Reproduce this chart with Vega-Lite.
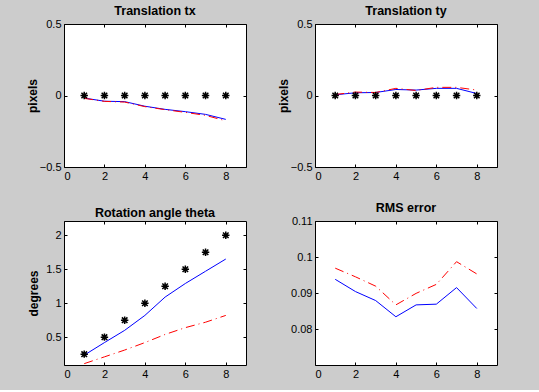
{
  "$schema": "https://vega.github.io/schema/vega-lite/v6.json",
  "background": "#cccccc",
  "padding": {"left": 25, "top": 4, "right": 43, "bottom": 10},
  "datasets": {
    "tx": [
      {"x": 1, "s": "true", "y": 0}, {"x": 2, "s": "true", "y": 0}, {"x": 3, "s": "true", "y": 0}, {"x": 4, "s": "true", "y": 0},
      {"x": 5, "s": "true", "y": 0}, {"x": 6, "s": "true", "y": 0}, {"x": 7, "s": "true", "y": 0}, {"x": 8, "s": "true", "y": 0},
      {"x": 1, "s": "blue", "y": -0.018}, {"x": 2, "s": "blue", "y": -0.040}, {"x": 3, "s": "blue", "y": -0.043}, {"x": 4, "s": "blue", "y": -0.075},
      {"x": 5, "s": "blue", "y": -0.097}, {"x": 6, "s": "blue", "y": -0.113}, {"x": 7, "s": "blue", "y": -0.132}, {"x": 8, "s": "blue", "y": -0.167},
      {"x": 1, "s": "red", "y": -0.020}, {"x": 2, "s": "red", "y": -0.041}, {"x": 3, "s": "red", "y": -0.046}, {"x": 4, "s": "red", "y": -0.078},
      {"x": 5, "s": "red", "y": -0.099}, {"x": 6, "s": "red", "y": -0.118}, {"x": 7, "s": "red", "y": -0.139}, {"x": 8, "s": "red", "y": -0.177}
    ],
    "ty": [
      {"x": 1, "s": "true", "y": 0}, {"x": 2, "s": "true", "y": 0}, {"x": 3, "s": "true", "y": 0}, {"x": 4, "s": "true", "y": 0},
      {"x": 5, "s": "true", "y": 0}, {"x": 6, "s": "true", "y": 0}, {"x": 7, "s": "true", "y": 0}, {"x": 8, "s": "true", "y": 0},
      {"x": 1, "s": "blue", "y": 0.005}, {"x": 2, "s": "blue", "y": 0.019}, {"x": 3, "s": "blue", "y": 0.021}, {"x": 4, "s": "blue", "y": 0.042},
      {"x": 5, "s": "blue", "y": 0.038}, {"x": 6, "s": "blue", "y": 0.050}, {"x": 7, "s": "blue", "y": 0.050}, {"x": 8, "s": "blue", "y": 0.014},
      {"x": 1, "s": "red", "y": 0.007}, {"x": 2, "s": "red", "y": 0.024}, {"x": 3, "s": "red", "y": 0.021}, {"x": 4, "s": "red", "y": 0.050},
      {"x": 5, "s": "red", "y": 0.035}, {"x": 6, "s": "red", "y": 0.057}, {"x": 7, "s": "red", "y": 0.057}, {"x": 8, "s": "red", "y": 0.038}
    ],
    "th": [
      {"x": 1, "s": "true", "y": 0.25}, {"x": 2, "s": "true", "y": 0.5}, {"x": 3, "s": "true", "y": 0.75}, {"x": 4, "s": "true", "y": 1.0},
      {"x": 5, "s": "true", "y": 1.25}, {"x": 6, "s": "true", "y": 1.5}, {"x": 7, "s": "true", "y": 1.75}, {"x": 8, "s": "true", "y": 2.0},
      {"x": 1, "s": "blue", "y": 0.235}, {"x": 2, "s": "blue", "y": 0.42}, {"x": 3, "s": "blue", "y": 0.60}, {"x": 4, "s": "blue", "y": 0.82},
      {"x": 5, "s": "blue", "y": 1.09}, {"x": 6, "s": "blue", "y": 1.29}, {"x": 7, "s": "blue", "y": 1.47}, {"x": 8, "s": "blue", "y": 1.65},
      {"x": 1, "s": "red", "y": 0.11}, {"x": 2, "s": "red", "y": 0.21}, {"x": 3, "s": "red", "y": 0.31}, {"x": 4, "s": "red", "y": 0.42},
      {"x": 5, "s": "red", "y": 0.54}, {"x": 6, "s": "red", "y": 0.64}, {"x": 7, "s": "red", "y": 0.72}, {"x": 8, "s": "red", "y": 0.82}
    ],
    "rms": [
      {"x": 1, "s": "blue", "y": 0.0938}, {"x": 2, "s": "blue", "y": 0.0904}, {"x": 3, "s": "blue", "y": 0.0879}, {"x": 4, "s": "blue", "y": 0.0834},
      {"x": 5, "s": "blue", "y": 0.0867}, {"x": 6, "s": "blue", "y": 0.0869}, {"x": 7, "s": "blue", "y": 0.0915}, {"x": 8, "s": "blue", "y": 0.0857},
      {"x": 1, "s": "red", "y": 0.0969}, {"x": 2, "s": "red", "y": 0.0945}, {"x": 3, "s": "red", "y": 0.0919}, {"x": 4, "s": "red", "y": 0.0867},
      {"x": 5, "s": "red", "y": 0.0899}, {"x": 6, "s": "red", "y": 0.0924}, {"x": 7, "s": "red", "y": 0.0987}, {"x": 8, "s": "red", "y": 0.0953}
    ]
  },
  "columns": 2,
  "bounds": "flush",
  "spacing": {"row": 54, "column": 69},
  "concat": [
    {
      "width": 182, "height": 143,
      "title": "Translation tx",
      "data": {"name": "tx"},
      "resolve": {"axis": {"x": "independent", "y": "independent"}},
      "layer": [
        {
          "transform": [{"filter": "datum.s === 'blue'"}],
          "mark": {"type": "line", "color": "#0000ff", "strokeWidth": 1},
          "encoding": {
            "x": {"field": "x", "type": "quantitative", "scale": {"domain": [0, 9], "nice": false, "zero": false}, "axis": {"values": [0, 2, 4, 6, 8], "title": null}},
            "y": {"field": "y", "type": "quantitative", "scale": {"domain": [-0.5, 0.5], "nice": false, "zero": false}, "axis": {"values": [-0.5, 0, 0.5], "title": "pixels", "titlePadding": 0}}
          }
        },
        {
          "transform": [{"filter": "datum.s === 'red'"}],
          "mark": {"type": "line", "color": "#ff0000", "strokeWidth": 1, "strokeDash": [9, 4, 1, 4]},
          "encoding": {
            "x": {"field": "x", "type": "quantitative", "scale": {"domain": [0, 9], "nice": false, "zero": false}, "axis": null},
            "y": {"field": "y", "type": "quantitative", "scale": {"domain": [-0.5, 0.5], "nice": false, "zero": false}, "axis": null}
          }
        },
        {
          "transform": [{"filter": "datum.s === 'true'"}],
          "mark": {"type": "point", "shape": "M0,-1L0,1M-1,0L1,0M-0.75,-0.75L0.75,0.75M-0.75,0.75L0.75,-0.75", "filled": false, "color": "black", "strokeWidth": 1.5, "size": 55, "opacity": 1},
          "encoding": {
            "x": {"field": "x", "type": "quantitative", "scale": {"domain": [0, 9], "nice": false, "zero": false}, "axis": {"orient": "top", "values": [0, 2, 4, 6, 8], "labels": false, "title": null}},
            "y": {"field": "y", "type": "quantitative", "scale": {"domain": [-0.5, 0.5], "nice": false, "zero": false}, "axis": {"orient": "right", "values": [-0.5, 0, 0.5], "labels": false, "title": null}}
          }
        }
      ]
    },
    {
      "width": 182, "height": 143,
      "title": "Translation ty",
      "data": {"name": "ty"},
      "resolve": {"axis": {"x": "independent", "y": "independent"}},
      "layer": [
        {
          "transform": [{"filter": "datum.s === 'blue'"}],
          "mark": {"type": "line", "color": "#0000ff", "strokeWidth": 1},
          "encoding": {
            "x": {"field": "x", "type": "quantitative", "scale": {"domain": [0, 9], "nice": false, "zero": false}, "axis": {"values": [0, 2, 4, 6, 8], "title": null}},
            "y": {"field": "y", "type": "quantitative", "scale": {"domain": [-0.5, 0.5], "nice": false, "zero": false}, "axis": {"values": [-0.5, 0, 0.5], "title": "pixels", "titlePadding": 0}}
          }
        },
        {
          "transform": [{"filter": "datum.s === 'red'"}],
          "mark": {"type": "line", "color": "#ff0000", "strokeWidth": 1, "strokeDash": [9, 4, 1, 4]},
          "encoding": {
            "x": {"field": "x", "type": "quantitative", "scale": {"domain": [0, 9], "nice": false, "zero": false}, "axis": null},
            "y": {"field": "y", "type": "quantitative", "scale": {"domain": [-0.5, 0.5], "nice": false, "zero": false}, "axis": null}
          }
        },
        {
          "transform": [{"filter": "datum.s === 'true'"}],
          "mark": {"type": "point", "shape": "M0,-1L0,1M-1,0L1,0M-0.75,-0.75L0.75,0.75M-0.75,0.75L0.75,-0.75", "filled": false, "color": "black", "strokeWidth": 1.5, "size": 55, "opacity": 1},
          "encoding": {
            "x": {"field": "x", "type": "quantitative", "scale": {"domain": [0, 9], "nice": false, "zero": false}, "axis": {"orient": "top", "values": [0, 2, 4, 6, 8], "labels": false, "title": null}},
            "y": {"field": "y", "type": "quantitative", "scale": {"domain": [-0.5, 0.5], "nice": false, "zero": false}, "axis": {"orient": "right", "values": [-0.5, 0, 0.5], "labels": false, "title": null}}
          }
        }
      ]
    },
    {
      "width": 182, "height": 144,
      "title": "Rotation angle theta",
      "data": {"name": "th"},
      "resolve": {"axis": {"x": "independent", "y": "independent"}},
      "layer": [
        {
          "transform": [{"filter": "datum.s === 'blue'"}],
          "mark": {"type": "line", "color": "#0000ff", "strokeWidth": 1},
          "encoding": {
            "x": {"field": "x", "type": "quantitative", "scale": {"domain": [0, 9], "nice": false, "zero": false}, "axis": {"values": [0, 2, 4, 6, 8], "title": null}},
            "y": {"field": "y", "type": "quantitative", "scale": {"domain": [0.09, 2.21], "nice": false, "zero": false}, "axis": {"values": [0.5, 1, 1.5, 2], "title": "degrees", "titlePadding": 5}}
          }
        },
        {
          "transform": [{"filter": "datum.s === 'red'"}],
          "mark": {"type": "line", "color": "#ff0000", "strokeWidth": 1, "strokeDash": [9, 4, 1, 4]},
          "encoding": {
            "x": {"field": "x", "type": "quantitative", "scale": {"domain": [0, 9], "nice": false, "zero": false}, "axis": null},
            "y": {"field": "y", "type": "quantitative", "scale": {"domain": [0.09, 2.21], "nice": false, "zero": false}, "axis": null}
          }
        },
        {
          "transform": [{"filter": "datum.s === 'true'"}],
          "mark": {"type": "point", "shape": "M0,-1L0,1M-1,0L1,0M-0.75,-0.75L0.75,0.75M-0.75,0.75L0.75,-0.75", "filled": false, "color": "black", "strokeWidth": 1.5, "size": 55, "opacity": 1},
          "encoding": {
            "x": {"field": "x", "type": "quantitative", "scale": {"domain": [0, 9], "nice": false, "zero": false}, "axis": {"orient": "top", "values": [0, 2, 4, 6, 8], "labels": false, "title": null}},
            "y": {"field": "y", "type": "quantitative", "scale": {"domain": [0.09, 2.21], "nice": false, "zero": false}, "axis": {"orient": "right", "values": [0.5, 1, 1.5, 2], "labels": false, "title": null}}
          }
        }
      ]
    },
    {
      "width": 182, "height": 144,
      "title": "RMS error",
      "data": {"name": "rms"},
      "resolve": {"axis": {"x": "independent", "y": "independent"}},
      "layer": [
        {
          "transform": [{"filter": "datum.s === 'blue'"}],
          "mark": {"type": "line", "color": "#0000ff", "strokeWidth": 1},
          "encoding": {
            "x": {"field": "x", "type": "quantitative", "scale": {"domain": [0, 9], "nice": false, "zero": false}, "axis": {"values": [0, 2, 4, 6, 8], "title": null}},
            "y": {"field": "y", "type": "quantitative", "scale": {"domain": [0.07, 0.11], "nice": false, "zero": false}, "axis": {"values": [0.08, 0.09, 0.1, 0.11], "title": null}}
          }
        },
        {
          "transform": [{"filter": "datum.s === 'red'"}],
          "mark": {"type": "line", "color": "#ff0000", "strokeWidth": 1, "strokeDash": [9, 4, 1, 4]},
          "encoding": {
            "x": {"field": "x", "type": "quantitative", "scale": {"domain": [0, 9], "nice": false, "zero": false}, "axis": {"orient": "top", "values": [0, 2, 4, 6, 8], "labels": false, "title": null}},
            "y": {"field": "y", "type": "quantitative", "scale": {"domain": [0.07, 0.11], "nice": false, "zero": false}, "axis": {"orient": "right", "values": [0.08, 0.09, 0.1, 0.11], "labels": false, "title": null}}
          }
        }
      ]
    }
  ],
  "config": {
    "font": "Liberation Sans",
    "view": {"stroke": "black", "strokeWidth": 1, "fill": "white"},
    "axis": {
      "grid": false, "domain": false,
      "tickColor": "black", "tickSize": -3, "tickWidth": 1,
      "labelFont": "Liberation Sans", "labelFontSize": 11, "labelColor": "black", "labelPadding": 6, "format": "~g",
      "titleFont": "Liberation Sans", "titleFontSize": 12, "titleFontWeight": "bold", "titleColor": "black"
    },
    "title": {"font": "Liberation Sans", "fontSize": 12.5, "fontWeight": "bold", "color": "black", "offset": 1}
  }
}
